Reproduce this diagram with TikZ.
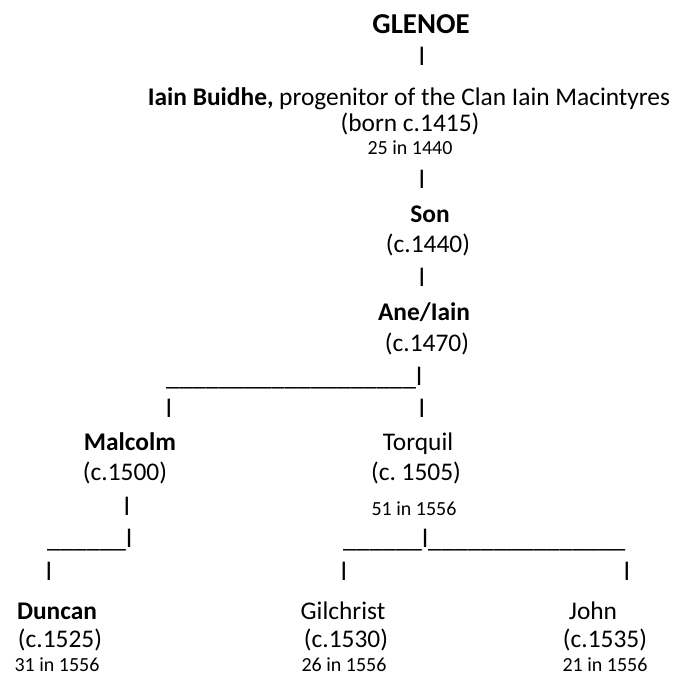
\documentclass[tikz,border=0pt]{standalone}
\usepackage{fontspec}
\setmainfont{Carlito}
\frenchspacing
\tikzset{
  txt/.style={inner sep=0pt, anchor=base, font=\fontsize{25.4}{30}\selectfont},
  bold/.style={txt, font=\fontsize{25.4}{30}\selectfont\bfseries},
  head/.style={txt, font=\fontsize{28.8}{32}\selectfont\bfseries},
  small/.style={txt, font=\fontsize{20}{24}\selectfont},
  bar/.style={txt, font=\fontsize{26.4}{30}\selectfont},
  rule/.style={bar, anchor=base west}
}
\begin{document}
\begin{tikzpicture}[x=1pt,y=-1pt]
\useasboundingbox (0,0) rectangle (700,675);
% generation 0
\node[head] (glenoe) at (421,33) {GLENOE};
\node[bar] (b1) at (422,65) {l};
% Iain Buidhe
\node[txt] (iain) at (409,105) {\textbf{Iain Buidhe,} progenitor of the Clan Iain Macintyres};
\node[txt] (iainb) at (410,131) {(born c.1415)};
\node[small] (iaina) at (410,154) {25 in 1440};
\node[bar] (b2) at (422,188) {l};
% Son
\node[bold] (son) at (430,222) {Son};
\node[txt] (sonb) at (428,252) {(c.1440)};
\node[bar] (b3) at (422,286) {l};
% Ane/Iain
\node[bold] (ane) at (424,320) {Ane/Iain};
\node[txt] (aneb) at (427,351) {(c.1470)};
\node[rule] (r1) at (166,385) {\_\_\_\_\_\_\_\_\_\_\_\_\_\_\_\_\_\_\_l};
\node[bar] (b4) at (169,417) {l};
\node[bar] (b5) at (422,417) {l};
% Malcolm / Torquil
\node[bold] (malcolm) at (130,450) {Malcolm};
\node[txt] (malcolmb) at (125,480) {(c.1500)};
\node[txt] (torquil) at (418,450) {Torquil};
\node[txt] (torquilb) at (416,480) {(c. 1505)};
\node[bar] (b6) at (127,515) {l};
\node[small] (torquila) at (414,515) {51 in 1556};
\node[rule] (r2) at (47,547) {\_\_\_\_\_\_l};
\node[rule] (r3) at (343,547) {\_\_\_\_\_\_l\_\_\_\_\_\_\_\_\_\_\_\_\_\_\_};
\node[bar] (b7) at (49,580) {l};
\node[bar] (b8) at (344,580) {l};
\node[bar] (b9) at (627,580) {l};
% grandchildren
\node[bold] (duncan) at (57,619) {Duncan};
\node[txt] (duncanb) at (60,647) {(c.1525)};
\node[small] (duncana) at (57,671) {31 in 1556};
\node[txt] (gilchrist) at (343,619) {Gilchrist};
\node[txt] (gilchristb) at (346,647) {(c.1530)};
\node[small] (gilchrista) at (344,671) {26 in 1556};
\node[txt] (john) at (593,619) {John};
\node[txt] (johnb) at (605,647) {(c.1535)};
\node[small] (johna) at (605,671) {21 in 1556};
\end{tikzpicture}
\end{document}
